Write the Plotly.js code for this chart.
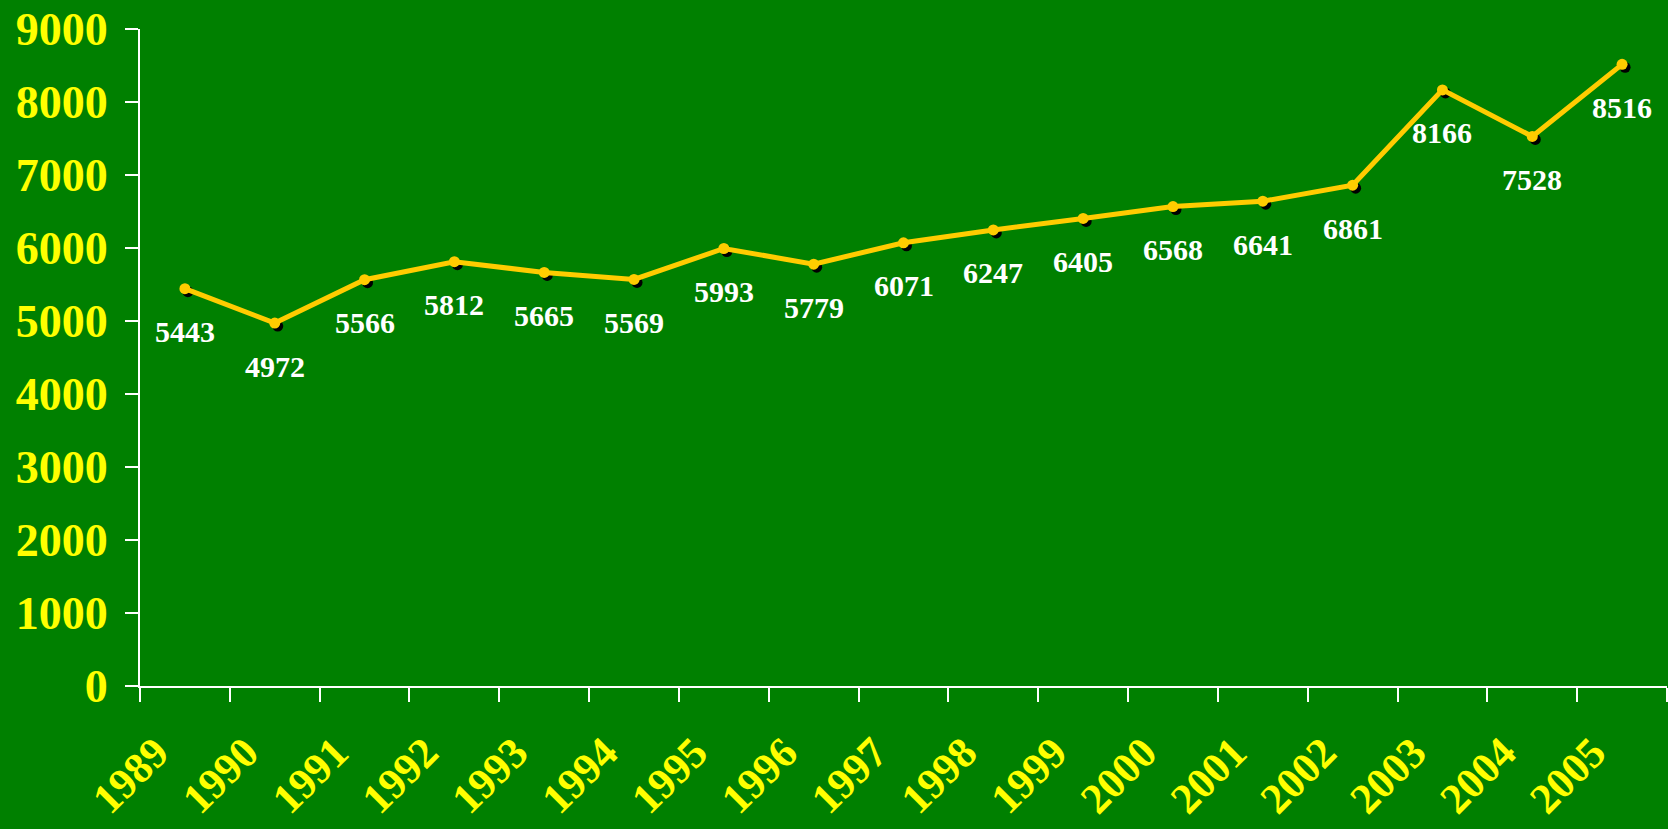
<!DOCTYPE html>
<html>
<head>
<meta charset="utf-8">
<script src="https://cdn.plot.ly/plotly-3.0.1.min.js"></script>
<style>html,body{margin:0;padding:0;background:#008000;}#chart{width:1668px;height:829px;}</style>
</head>
<body>
<div id="chart"></div>
<script>
const years = ["1989","1990","1991","1992","1993","1994","1995","1996","1997","1998","1999","2000","2001","2002","2003","2004","2005"];
const values = [5443,4972,5566,5812,5665,5569,5993,5779,6071,6247,6405,6568,6641,6861,8166,7528,8516];
const yTicks = [0,1000,2000,3000,4000,5000,6000,7000,8000,9000];

const W = 1668, H = 829;
const mL = 140, mR = 1, mT = 29, mB = 143;
const plotW = W - mL - mR, plotH = H - mT - mB;
const xr = [-0.5, years.length - 0.5];
const yr = [0, 9000];
const sh = 3; // shadow offset px
const dx = sh * (xr[1]-xr[0]) / plotW;
const dy = sh * (yr[1]-yr[0]) / plotH;

const serif = "Liberation Serif, Times New Roman, serif";

const shadow = {
  x: years, y: values, type: 'scatter', mode: 'markers',
  xaxis: 'x', yaxis: 'y',
  marker: {color: '#000000', size: 11},
  hoverinfo: 'skip', showlegend: false
};
const main = {
  x: years, y: values, type: 'scatter', mode: 'lines+markers',
  xaxis: 'x2', yaxis: 'y2',
  line: {color: '#FFCC00', width: 5},
  marker: {color: '#FFCC00', size: 11},
  showlegend: false
};

const annotations = years.map((yr_, i) => ({
  x: i, y: values[i], xref: 'x', yref: 'y',
  text: String(values[i]), showarrow: false,
  xshift: -sh, yshift: -43 + sh, yanchor: 'middle', xanchor: 'center',
  font: {family: serif, size: 30, color: '#FFFFFF', weight: 'bold'}
}));

const layout = {
  width: W, height: H,
  paper_bgcolor: '#008000', plot_bgcolor: 'rgba(0,0,0,0)',
  margin: {l: mL, r: mR, t: mT, b: mB, pad: 0},
  showlegend: false,
  xaxis: {type: 'category', range: [xr[0]-dx, xr[1]-dx], showline: false, showgrid: false, zeroline: false, showticklabels: false, ticks: '', fixedrange: true},
  yaxis: {range: [yr[0]+dy, yr[1]+dy], showline: false, showgrid: false, zeroline: false, showticklabels: false, ticks: '', fixedrange: true},
  xaxis2: {
    type: 'category', overlaying: 'x', range: xr,
    tickson: 'boundaries', ticks: 'outside', ticklen: 14, tickwidth: 2, tickcolor: '#FFFFFF',
    showline: true, linecolor: '#FFFFFF', linewidth: 2, showgrid: false, zeroline: false,
    tickangle: -45, ticklabelstandoff: 22, ticklabelshift: -29,
    tickfont: {family: serif, size: 43, color: '#FFFF00', weight: 'bold'}
  },
  yaxis2: {
    overlaying: 'y', range: yr, tickvals: yTicks, ticktext: yTicks.map(String),
    ticks: 'outside', ticklen: 13, tickwidth: 2, tickcolor: '#FFFFFF',
    showline: true, linecolor: '#FFFFFF', linewidth: 2, showgrid: false, zeroline: false,
    ticklabelstandoff: 8,
    tickfont: {family: serif, size: 46, color: '#FFFF00', weight: 'bold'}
  },
  annotations: annotations
};

Plotly.newPlot('chart', [shadow, main], layout, {displayModeBar: false, staticPlot: true});
</script>
</body>
</html>
